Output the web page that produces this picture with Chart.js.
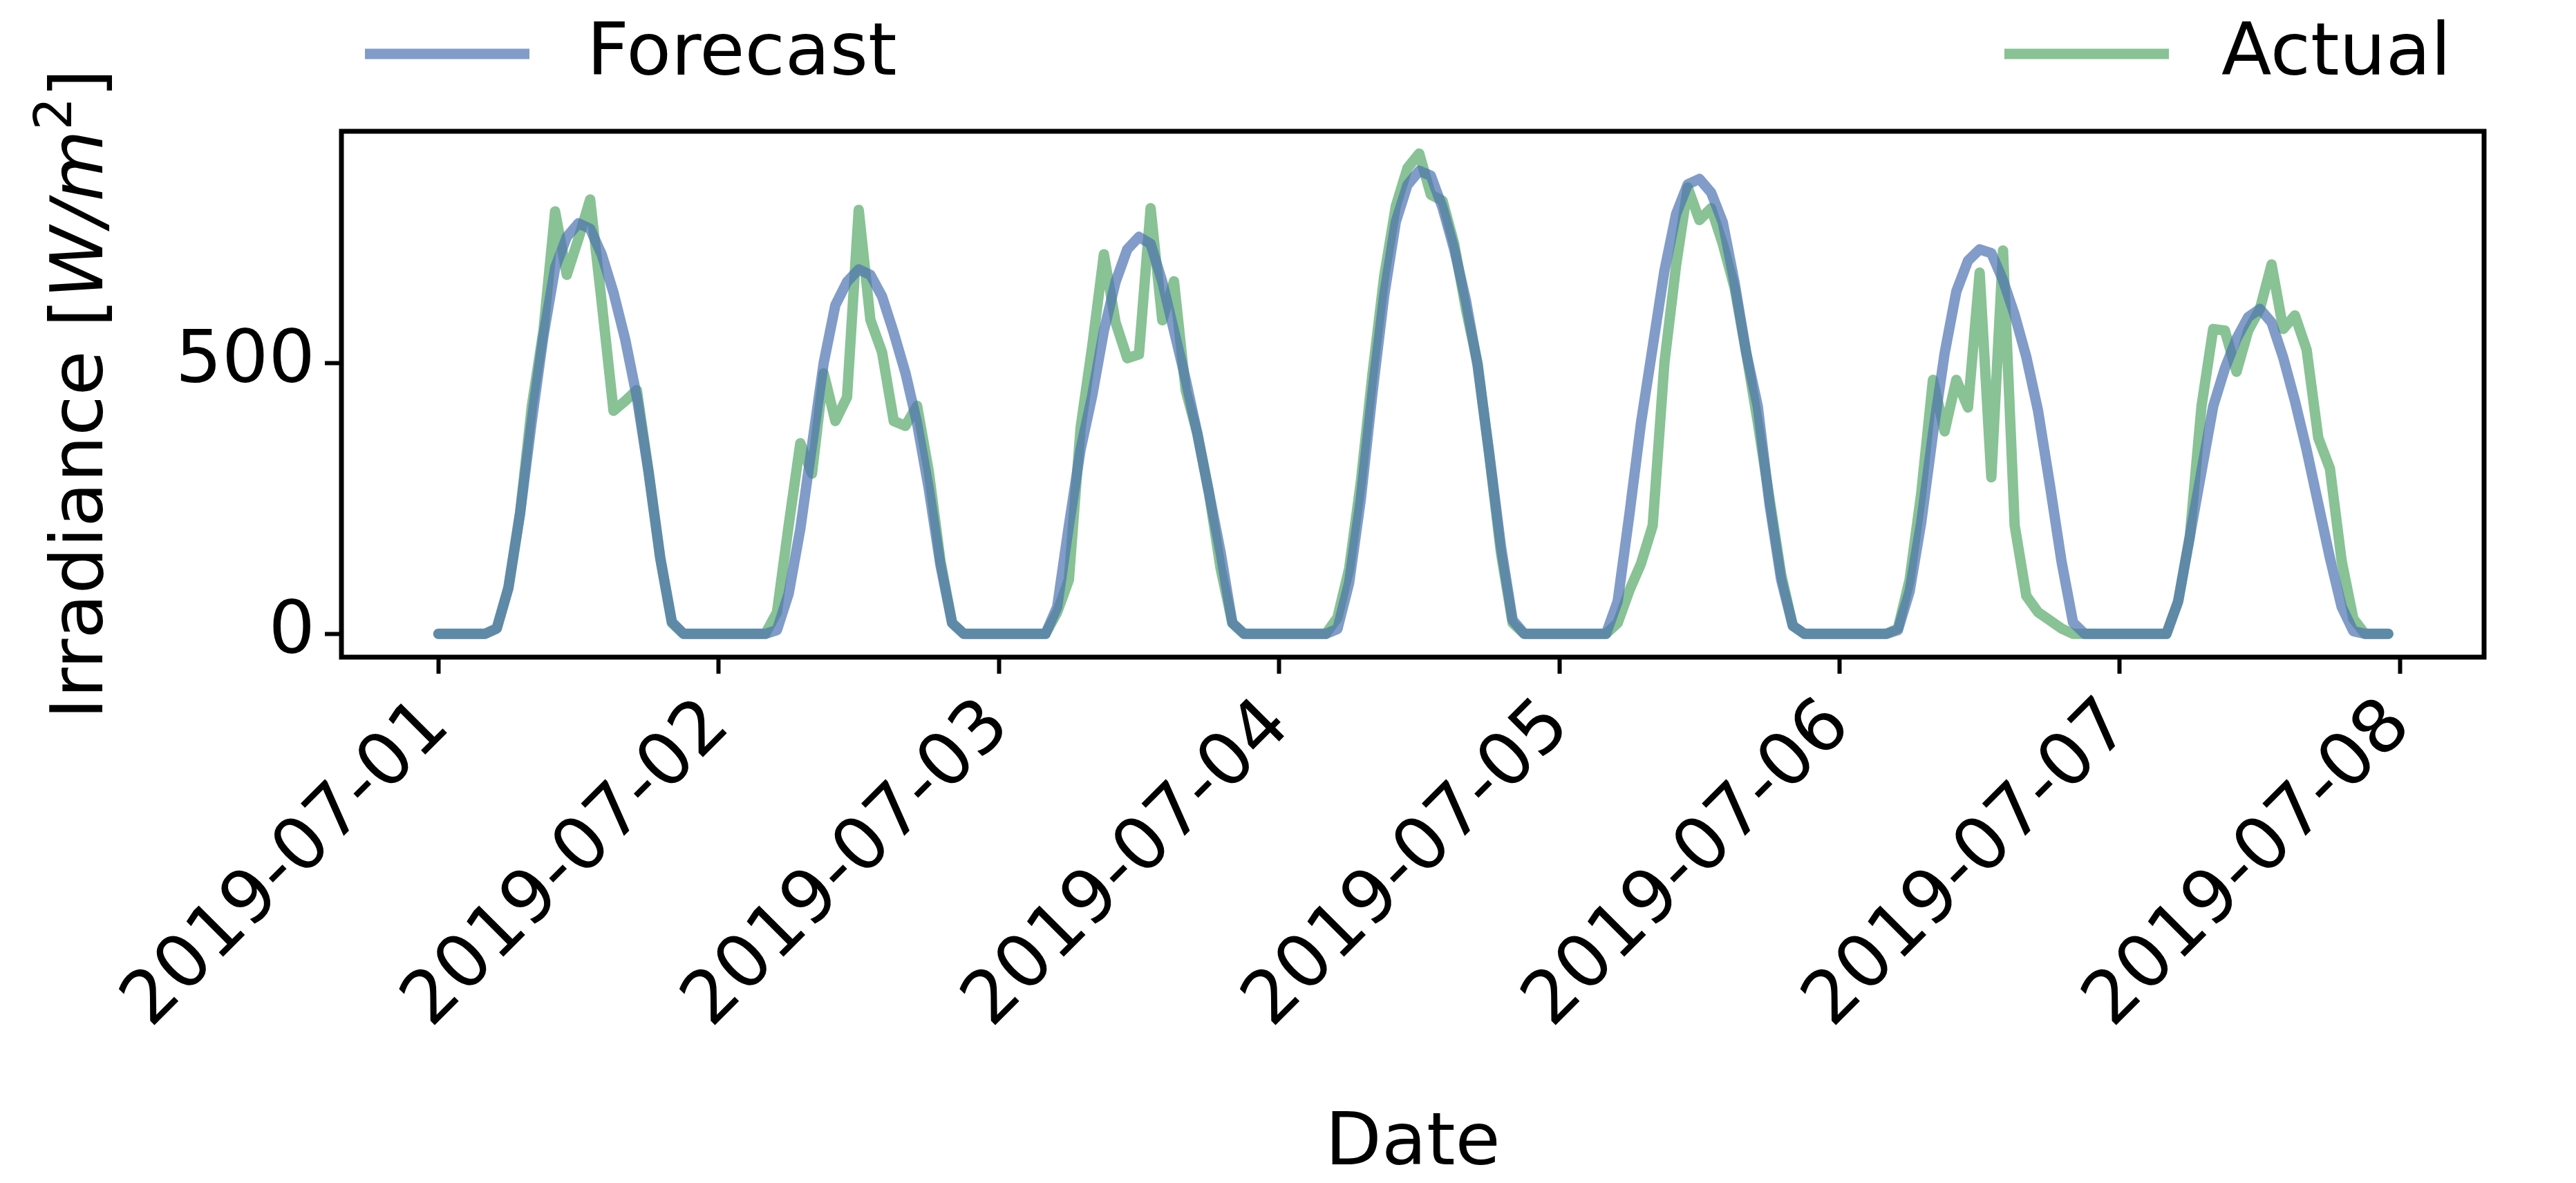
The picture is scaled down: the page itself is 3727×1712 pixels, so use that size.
<!DOCTYPE html>
<html><head><meta charset="utf-8">
<script src="https://cdn.jsdelivr.net/npm/chart.js@4/dist/chart.umd.min.js"></script>
<style>html,body{margin:0;padding:0;background:#fff}#wrap{width:3727px;height:1712px}</style>
</head><body><div id="wrap"><canvas id="c" width="3727" height="1712"></canvas></div>
<script>
const dayLabels = ["2019-07-01","2019-07-02","2019-07-03","2019-07-04","2019-07-05","2019-07-06","2019-07-07","2019-07-08"];
const yTicks = [0, 500];
const forecast = [
 0,0,0,0,0,10,85,223,393,550,676,733,758,748,700,630,544,437,299,141,22,0,0,0,
 0,0,0,0,0,7,74,194,348,500,607,650,673,663,623,556,482,389,268,127,20,0,0,0,
 0,0,0,0,0,50,200,340,440,560,650,710,733,720,650,560,470,370,260,150,20,0,0,0,
 0,0,0,0,0,9,94,248,445,624,761,829,855,846,787,710,616,496,333,162,26,0,0,0,
 0,0,0,0,0,60,220,390,530,670,775,830,840,815,760,650,520,420,240,100,15,0,0,0,
 0,0,0,0,0,7,78,206,369,518,632,689,710,703,653,589,511,412,277,135,21,0,0,0,
 0,0,0,0,0,60,180,300,420,490,545,585,600,575,510,430,340,240,140,50,5,0,0,0];
const actual = [
 0,0,0,0,0,10,85,223,420,560,780,663,730,802,610,412,430,450,300,140,20,0,0,0,
 0,0,0,0,0,40,200,352,296,481,393,437,783,580,520,393,384,421,300,135,20,0,0,0,
 0,0,0,0,0,40,100,380,531,701,575,509,516,786,579,651,450,370,260,120,20,0,0,0,
 0,0,0,0,0,30,120,280,480,660,790,860,887,811,800,720,600,500,330,150,20,0,0,0,
 0,0,0,0,0,20,80,130,200,500,680,824,764,786,720,640,520,390,250,110,15,0,0,0,
 0,0,0,0,0,10,100,260,469,374,469,418,667,289,708,200,70,40,25,10,0,0,0,0,
 0,0,0,0,0,60,180,420,563,560,484,560,600,682,563,588,525,362,305,135,28,0,0,0];

const BLUE='rgba(76,114,176,0.7)', GREEN='rgba(85,168,104,0.7)';
const FONT='"DejaVu Sans"';
const FS=106;
const toPts = a => a.map((v,i)=>({x:i,y:v}));

const deco = {
  id:'deco',
  afterDraw(chart){
    const ctx=chart.ctx, a=chart.chartArea;
    ctx.save();
    ctx.strokeStyle='#000'; ctx.lineWidth=7;
    ctx.strokeRect(a.left,a.top,a.right-a.left,a.bottom-a.top);
    ctx.lineCap='butt'; ctx.lineWidth=15;
    const items=[[chart.data.datasets[0],528,849],[chart.data.datasets[1],2900,3214]];
    ctx.font=FS+'px '+FONT; ctx.fillStyle='#000'; ctx.textBaseline='middle';
    for(const [ds,lx,tx] of items){
      ctx.strokeStyle=ds.borderColor; ctx.beginPath(); ctx.moveTo(lx,78); ctx.lineTo(lx+238,78); ctx.stroke();
      ctx.fillText(ds.label,tx,80);
    }
    ctx.textAlign='center'; ctx.textBaseline='alphabetic';
    ctx.fillText('Date',(a.left+a.right)/2,1685);
    ctx.translate(110,(a.top+a.bottom)/2); ctx.rotate(-Math.PI/2);
    const parts=[['Irradiance [',FS+'px '+FONT,0],['W/m','italic '+FS+'px '+FONT,0],['2',Math.round(FS*0.7)+'px '+FONT,-45],[']',FS+'px '+FONT,0]];
    let w=0; for(const p of parts){ctx.font=p[1]; w+=ctx.measureText(p[0]).width;}
    let x=-w/2; ctx.textAlign='left';
    for(const p of parts){ctx.font=p[1]; ctx.fillText(p[0],x,p[2]+38); x+=ctx.measureText(p[0]).width;}
    ctx.restore();
  }
};

new Chart(document.getElementById('c'),{
  type:'line',
  data:{datasets:[
    {label:'Forecast',data:toPts(forecast),borderColor:BLUE,borderWidth:15,pointRadius:0,tension:0,fill:false,borderJoinStyle:'round',borderCapStyle:'round'},
    {label:'Actual',data:toPts(actual),borderColor:GREEN,borderWidth:15,pointRadius:0,tension:0,fill:false,borderJoinStyle:'round',borderCapStyle:'round'}
  ]},
  options:{
    responsive:false,animation:false,devicePixelRatio:1,
    layout:{padding:{top:190,right:133,left:0,bottom:0}},
    plugins:{legend:{display:false},tooltip:{enabled:false}},
    scales:{
      x:{type:'linear',min:-8.3,max:175.2,
        afterBuildTicks:s=>{s.ticks=dayLabels.map((_,i)=>({value:i*24}));},
        afterFit:s=>{s.height=761;},
        grid:{drawOnChartArea:false,drawTicks:true,tickLength:24,tickWidth:6,tickColor:'#000'},
        border:{display:false},
        ticks:{font:{family:'DejaVu Sans',size:FS},color:'#000',minRotation:45,maxRotation:45,padding:14,
          callback:(v)=>dayLabels[Math.round(v/24)]}
      },
      y:{min:-43,max:928,
        afterBuildTicks:s=>{s.ticks=yTicks.map(v=>({value:v}));},
        afterFit:s=>{s.width=494;},
        grid:{drawOnChartArea:false,drawTicks:true,tickLength:24,tickWidth:6,tickColor:'#000'},
        border:{display:false},
        ticks:{font:{family:'DejaVu Sans',size:FS},color:'#000',padding:14}
      }
    }
  },
  plugins:[deco]
});
</script></body></html>
